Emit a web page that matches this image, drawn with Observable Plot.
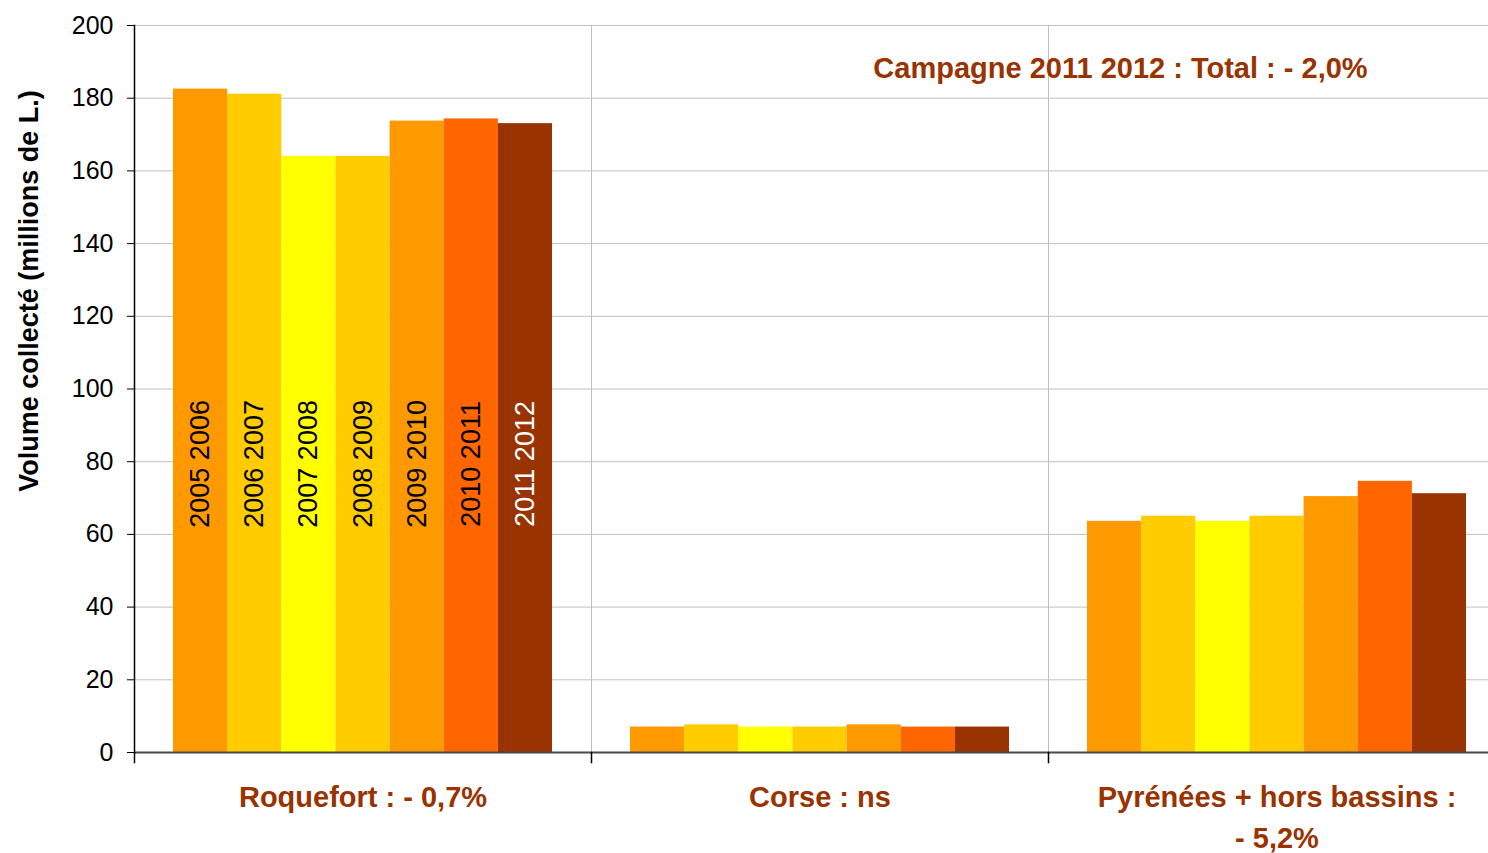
<!DOCTYPE html>
<html><head><meta charset="utf-8">
<script src="https://cdn.jsdelivr.net/npm/d3@7"></script>
<script src="https://cdn.jsdelivr.net/npm/@observablehq/plot@0.6"></script>
<style>
html,body{margin:0;padding:0;background:#fff;overflow:hidden;}
#chart svg{display:block;}
</style></head><body><div id="chart"></div>
<script>
const regions = ["Roquefort", "Corse", "Pyrénées + hors bassins"];
const regionLabels = ["Roquefort : - 0,7%", "Corse : ns", "Pyrénées + hors bassins :\n- 5,2%"];
const campaigns = ["2005 2006", "2006 2007", "2007 2008", "2008 2009", "2009 2010", "2010 2011", "2011 2012"];
const roquefort = [182.5, 181.1, 164.0, 164.0, 173.7, 174.3, 173.0];
const corse = [7.0, 7.6, 7.0, 7.0, 7.6, 7.0, 7.0];
const pyrenees = [63.6, 65.0, 63.6, 65.0, 70.4, 74.6, 71.2];
const yTicks = [0, 20, 40, 60, 80, 100, 120, 140, 160, 180, 200];
const palette = ["#FF9900", "#FFCC00", "#FFFF00", "#FFCC00", "#FF9900", "#FF6600", "#993300"];
const totalNote = "Campagne 2011 2012 : Total : - 2,0%";
const yLabel = "Volume collecté (millions de L.)";
const LABEL_Y = 79.4;

const series = [roquefort, corse, pyrenees];
const data = [];
regions.forEach((r, i) => campaigns.forEach((c, j) => data.push({region: r, year: c, value: series[i][j]})));
const roqData = data.filter(d => d.region === regions[0]);
const brown = "#993300";

const chart = Plot.plot({
  width: 1505, height: 853,
  marginLeft: 134, marginRight: 0, marginTop: 25, marginBottom: 101,
  style: {fontFamily: "'Liberation Sans', Arial, sans-serif", maxWidth: "none", overflow: "visible", background: "white"},
  fx: {domain: regions, padding: 0},
  x: {domain: campaigns, paddingInner: 0, paddingOuter: 0.72, round: false, axis: null},
  y: {domain: [0, 200]},
  color: {domain: campaigns, range: palette},
  marks: [
    Plot.gridY(yTicks, {stroke: "#c0c0c0", strokeOpacity: 1}),
    Plot.frame({stroke: "#c0c0c0"}),
    Plot.barY(data, {fx: "region", x: "year", y: "value", fill: "year"}),
    Plot.ruleY([0], {stroke: "#4a4a4a", strokeWidth: 2}),
    Plot.frame({anchor: "left", stroke: "black", strokeWidth: 1.5, facetAnchor: "left"}),
    Plot.frame({anchor: "left", stroke: "black", strokeWidth: 1.5, insetTop: 727, insetBottom: -10}),
    Plot.axisY({ticks: yTicks, tickSize: 7, tickPadding: 14, fontSize: 25, label: null, stroke: "black"}),
    Plot.axisFx({anchor: "bottom", tickSize: 0, tickPadding: 26, fontSize: 29, fontWeight: "bold", fill: brown, lineHeight: 1.4, label: null,
      tickFormat: d => regionLabels[regions.indexOf(d)]}),
    Plot.text(roqData.filter(d => d.year !== "2011 2012"), {fx: "region", x: "year", y: () => LABEL_Y, text: "year", rotate: -90, fontSize: 27, fill: "black"}),
    Plot.text(roqData.filter(d => d.year === "2011 2012"), {fx: "region", x: "year", y: () => LABEL_Y, text: "year", rotate: -90, fontSize: 27, fill: "white"}),
    Plot.text([yLabel], {text: d => d, facet: "super", frameAnchor: "left", textAnchor: "middle", lineAnchor: "middle", dx: -105, dy: -98, rotate: -90, fontSize: 27, fontWeight: "bold", fill: "black"}),
    Plot.text([totalNote], {text: d => d, facet: "super", frameAnchor: "top-left", textAnchor: "middle", lineAnchor: "middle", dx: 986, dy: 43, fontSize: 29, fontWeight: "bold", fill: brown})
  ]
});
document.getElementById("chart").appendChild(chart);
</script>
</body></html>
